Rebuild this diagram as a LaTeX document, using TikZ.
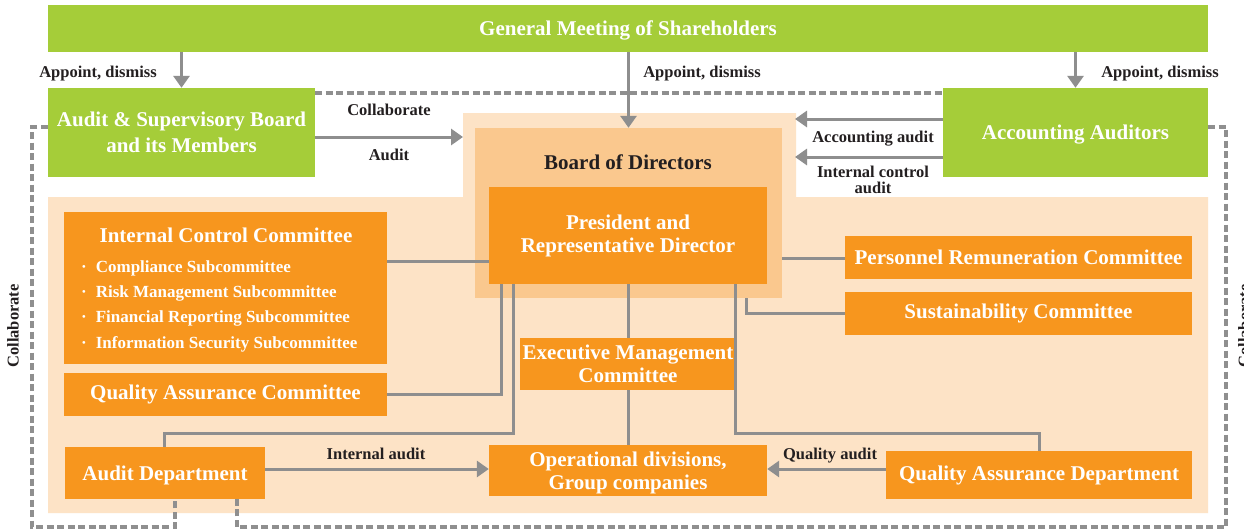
\documentclass[tikz,border=0pt]{standalone}
\usepackage{fontspec}
\setmainfont{Liberation Serif}
\usetikzlibrary{arrows.meta}
\definecolor{grn}{HTML}{A5CD39}
\definecolor{org}{HTML}{F7961E}
\definecolor{peach}{HTML}{FDE3C6}
\definecolor{band}{HTML}{FAC88E}
\definecolor{lnk}{HTML}{8E8E8E}
\definecolor{dsh}{HTML}{8F8F8F}
\definecolor{dark}{HTML}{231F20}
\tikzset{
  bx/.style={inner sep=0pt, text=white, font=\bfseries\fontsize{21}{23}\selectfont, align=center},
  gbox/.style={bx, fill=grn},
  obox/.style={bx, fill=org},
  lbl/.style={inner sep=0pt, text=dark, font=\bfseries\fontsize{16.5}{16}\selectfont, align=center, text depth=0pt},
  item/.style={inner sep=0pt, text=white, font=\bfseries\fontsize{17}{20}\selectfont, anchor=west},
  conn/.style={draw=lnk, line width=3pt},
  arr/.style={conn, -{Triangle[width=16pt,length=12pt]}},
  dline/.style={draw=dsh, line width=3.2pt, dash pattern=on 7pt off 3.5pt},
}
\begin{document}
\begin{tikzpicture}[x=1pt,y=-1pt]
\useasboundingbox (0,0) rectangle (1244,531);
\fill[white] (0,0) rectangle (1244,531);
% peach background region
\fill[peach] (48,197) -- (463,197) -- (463,113) -- (796,113) -- (796,197) -- (1208,197) -- (1208,513) -- (48,513) -- cycle;

% top level
\node[gbox, minimum width=1160pt, minimum height=47pt, text depth=0pt] (gm) at (628,28.5) {General Meeting of Shareholders};
\node[gbox, minimum width=267pt, minimum height=89pt, text depth=0pt, font=\bfseries\fontsize{21}{26}\selectfont] (asb) at (181.5,132.5) {Audit \& Supervisory Board\\and its Members};
\node[gbox, minimum width=265pt, minimum height=89pt, text depth=0pt] (acc) at (1075.5,132.5) {Accounting Auditors};

% board of directors
\node[fill=band, inner sep=0pt, minimum width=307pt, minimum height=170pt] (bod) at (628.5,213) {};
\node[lbl, font=\bfseries\fontsize{21}{23}\selectfont] (bodt) at (628,162) {Board of Directors};
\node[obox, minimum width=278pt, minimum height=97pt] (pres) at (628,235.5) {President and\\Representative Director};

% left committees
\node[obox, minimum width=323pt, minimum height=152pt] (icc) at (225.5,287.5) {};
\node[bx] (icct) at (226,235) {Internal Control Committee};
\node[item] (i1) at (81,268) {·\hspace{9pt}Compliance Subcommittee};
\node[item] (i2) at (81,293) {·\hspace{9pt}Risk Management Subcommittee};
\node[item] (i3) at (81,318.5) {·\hspace{9pt}Financial Reporting Subcommittee};
\node[item] (i4) at (81,344) {·\hspace{9pt}Information Security Subcommittee};
\node[obox, minimum width=323pt, minimum height=43pt] (qac) at (225.5,394) {Quality Assurance Committee};
\node[obox, minimum width=200pt, minimum height=52pt, text depth=0pt] (ad) at (165,473) {Audit Department};

% center
\node[obox, minimum width=216pt, minimum height=52pt] (emc) at (628,364) {Executive Management\\Committee};
\node[obox, minimum width=278pt, minimum height=51pt, text depth=0pt] (op) at (628,470.5) {Operational divisions,\\Group companies};

% right committees
\node[obox, minimum width=347pt, minimum height=43pt] (prc) at (1018.5,257.5) {Personnel Remuneration Committee};
\node[obox, minimum width=347pt, minimum height=43pt] (sus) at (1018.5,313.5) {Sustainability Committee};
\node[obox, minimum width=306pt, minimum height=48pt] (qad) at (1039,475) {Quality Assurance Department};

% helper coordinates
\coordinate (yA) at (0,137);
\coordinate (xBL) at (463,0);
\coordinate (yC1) at (0,119);
\coordinate (yC2) at (0,157);
\coordinate (xBR) at (795,0);
\coordinate (yD) at (0,93);
\coordinate (yE) at (0,127);
\coordinate (yF) at (0,527);
\coordinate (xL) at (32,0);
\coordinate (xR) at (1226,0);
\coordinate (xAD1) at (175,0);
\coordinate (xAD2) at (237,0);
\coordinate (yI) at (0,261);
\coordinate (x501) at (501,0);
\coordinate (x513) at (513,0);
\coordinate (x164) at (164,0);
\coordinate (y433) at (0,433);
\coordinate (x735) at (735,0);
\coordinate (x746) at (746,0);
\coordinate (yP) at (0,258);
\coordinate (y469) at (0,469);

% appoint arrows
\draw[arr] (gm.south -| asb.north) -- (asb.north);
\draw[arr] (gm.south -| bod.north) -- (bod.north);
\draw[arr] (gm.south -| acc.north) -- (acc.north);
\node[lbl] (ap1) at (98,72) {Appoint, dismiss};
\node[lbl] (ap2) at (702,72) {Appoint, dismiss};
\node[lbl] (ap3) at (1160,72) {Appoint, dismiss};

% audit arrows
\draw[arr] (asb.east |- yA) -- (xBL |- yA);
\node[lbl] (lcol) at (389,110) {Collaborate};
\node[lbl] (laud) at (389,155) {Audit};
\draw[arr] (acc.west |- yC1) -- (xBR |- yC1);
\draw[arr] (acc.west |- yC2) -- (xBR |- yC2);
\node[lbl] (lacc) at (873,136.5) {Accounting audit};
\node[lbl] (lint) at (873,180) {Internal control\\audit};

% dashed collaborate lines
\draw[dline] (asb.east |- yD) -- (acc.west |- yD);
\draw[dline] (asb.west |- yE) -- (xL |- yE) -- (xL |- yF) -- (xAD1 |- yF) -- (xAD1 |- ad.south);
\draw[dline] (acc.east |- yE) -- (xR |- yE) -- (xR |- yF) -- (xAD2 |- yF) -- (xAD2 |- ad.south);
\node[lbl, rotate=90] (lcl) at (13,326) {Collaborate};
\node[lbl, rotate=90, anchor=north] (lcr) at (1238,326) {Collaborate};

% internal connectors
\draw[conn] (icc.east |- yI) -- (pres.west |- yI);
\draw[conn] (qac.east) -- (x501 |- qac.east) -- (pres.south -| x501);
\draw[conn] (ad.north -| x164) -- (x164 |- y433) -- (x513 |- y433) -- (pres.south -| x513);
\draw[conn] (pres.south) -- (emc.north);
\draw[conn] (emc.south) -- (op.north);
\draw[conn] (pres.south -| x735) -- (x735 |- y433) -- (qad.north |- y433) -- (qad.north);
\draw[conn] (bod.east |- yP) -- (prc.west |- yP);
\draw[conn] (bod.south -| x746) -- (x746 |- sus.west) -- (sus.west);

% bottom arrows
\draw[arr] (ad.east |- y469) -- (op.west |- y469);
\node[lbl] (lia) at (376,454) {Internal audit};
\draw[arr] (qad.west |- y469) -- (op.east |- y469);
\node[lbl] (lqa) at (830,454) {Quality audit};
\end{tikzpicture}
\end{document}
